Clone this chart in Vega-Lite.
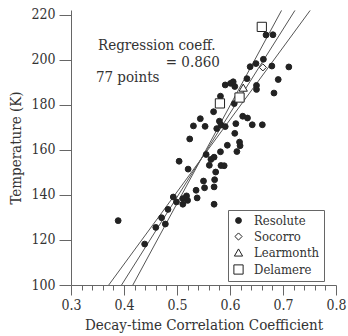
{
  "$schema": "https://vega.github.io/schema/vega-lite/v6.json",
  "width": 265,
  "height": 275,
  "autosize": {"type": "none"},
  "padding": {"left": 71, "top": 10, "right": 12, "bottom": 51},
  "config": {
    "view": {"stroke": null},
    "axis": {
      "labelFont": "DejaVu Serif Condensed",
      "titleFont": "DejaVu Serif Condensed",
      "labelFontSize": 14,
      "titleFontSize": 15,
      "titleFontWeight": "normal",
      "labelColor": "#333",
      "titleColor": "#333",
      "domainColor": "#666",
      "tickColor": "#666",
      "grid": false,
      "labelFlush": false
    },
    "legend": {
      "labelFont": "DejaVu Serif Condensed",
      "labelFontSize": 13,
      "labelColor": "#333"
    }
  },
  "resolve": {"axis": {"x": "independent"}},
  "datasets": {
    "points": [
      {"station": "Resolute", "coef": 0.668, "temp": 211.1},
      {"station": "Resolute", "coef": 0.681, "temp": 211.2},
      {"station": "Resolute", "coef": 0.663, "temp": 200.3},
      {"station": "Resolute", "coef": 0.649, "temp": 198.4},
      {"station": "Resolute", "coef": 0.638, "temp": 197.0},
      {"station": "Resolute", "coef": 0.679, "temp": 197.3},
      {"station": "Resolute", "coef": 0.711, "temp": 196.9},
      {"station": "Resolute", "coef": 0.691, "temp": 191.3},
      {"station": "Resolute", "coef": 0.632, "temp": 191.7},
      {"station": "Resolute", "coef": 0.650, "temp": 188.7},
      {"station": "Resolute", "coef": 0.650, "temp": 186.9},
      {"station": "Resolute", "coef": 0.683, "temp": 185.3},
      {"station": "Resolute", "coef": 0.591, "temp": 188.9},
      {"station": "Resolute", "coef": 0.601, "temp": 189.6},
      {"station": "Resolute", "coef": 0.606, "temp": 190.3},
      {"station": "Resolute", "coef": 0.609, "temp": 188.2},
      {"station": "Resolute", "coef": 0.582, "temp": 183.9},
      {"station": "Resolute", "coef": 0.608, "temp": 180.6},
      {"station": "Resolute", "coef": 0.569, "temp": 177.0},
      {"station": "Resolute", "coef": 0.544, "temp": 173.9},
      {"station": "Resolute", "coef": 0.531, "temp": 170.7},
      {"station": "Resolute", "coef": 0.553, "temp": 170.5},
      {"station": "Resolute", "coef": 0.575, "temp": 169.5},
      {"station": "Resolute", "coef": 0.580, "temp": 172.8},
      {"station": "Resolute", "coef": 0.583, "temp": 171.1},
      {"station": "Resolute", "coef": 0.591, "temp": 170.4},
      {"station": "Resolute", "coef": 0.624, "temp": 175.0},
      {"station": "Resolute", "coef": 0.633, "temp": 174.2},
      {"station": "Resolute", "coef": 0.611, "temp": 171.7},
      {"station": "Resolute", "coef": 0.642, "temp": 171.2},
      {"station": "Resolute", "coef": 0.661, "temp": 171.2},
      {"station": "Resolute", "coef": 0.609, "temp": 167.4},
      {"station": "Resolute", "coef": 0.524, "temp": 164.9},
      {"station": "Resolute", "coef": 0.595, "temp": 162.1},
      {"station": "Resolute", "coef": 0.618, "temp": 163.5},
      {"station": "Resolute", "coef": 0.619, "temp": 161.9},
      {"station": "Resolute", "coef": 0.613, "temp": 159.3},
      {"station": "Resolute", "coef": 0.582, "temp": 159.2},
      {"station": "Resolute", "coef": 0.555, "temp": 158.0},
      {"station": "Resolute", "coef": 0.564, "temp": 155.8},
      {"station": "Resolute", "coef": 0.570, "temp": 156.8},
      {"station": "Resolute", "coef": 0.504, "temp": 155.0},
      {"station": "Resolute", "coef": 0.561, "temp": 153.2},
      {"station": "Resolute", "coef": 0.583, "temp": 153.1},
      {"station": "Resolute", "coef": 0.589, "temp": 153.0},
      {"station": "Resolute", "coef": 0.521, "temp": 151.5},
      {"station": "Resolute", "coef": 0.573, "temp": 150.2},
      {"station": "Resolute", "coef": 0.550, "temp": 146.2},
      {"station": "Resolute", "coef": 0.571, "temp": 146.8},
      {"station": "Resolute", "coef": 0.552, "temp": 143.2},
      {"station": "Resolute", "coef": 0.570, "temp": 143.6},
      {"station": "Resolute", "coef": 0.536, "temp": 142.1},
      {"station": "Resolute", "coef": 0.538, "temp": 138.7},
      {"station": "Resolute", "coef": 0.493, "temp": 139.1},
      {"station": "Resolute", "coef": 0.499, "temp": 136.9},
      {"station": "Resolute", "coef": 0.511, "temp": 138.4},
      {"station": "Resolute", "coef": 0.518, "temp": 139.6},
      {"station": "Resolute", "coef": 0.520, "temp": 137.6},
      {"station": "Resolute", "coef": 0.511, "temp": 135.9},
      {"station": "Resolute", "coef": 0.570, "temp": 135.9},
      {"station": "Resolute", "coef": 0.483, "temp": 133.6},
      {"station": "Resolute", "coef": 0.471, "temp": 129.9},
      {"station": "Resolute", "coef": 0.478, "temp": 127.1},
      {"station": "Resolute", "coef": 0.460, "temp": 125.6},
      {"station": "Resolute", "coef": 0.439, "temp": 118.2},
      {"station": "Resolute", "coef": 0.389, "temp": 128.6},
      {"station": "Socorro", "coef": 0.662, "temp": 196.7},
      {"station": "Learmonth", "coef": 0.625, "temp": 187.7},
      {"station": "Delamere", "coef": 0.660, "temp": 214.7},
      {"station": "Delamere", "coef": 0.618, "temp": 183.3},
      {"station": "Delamere", "coef": 0.581, "temp": 180.7}
    ],
    "lines": [
      {"line": "y on x", "coef": 0.3712, "temp": 100},
      {"line": "y on x", "coef": 0.7512, "temp": 222},
      {"line": "bisector", "coef": 0.3954, "temp": 100},
      {"line": "bisector", "coef": 0.7225, "temp": 222},
      {"line": "x on y", "coef": 0.4167, "temp": 100},
      {"line": "x on y", "coef": 0.6972, "temp": 222}
    ]
  },
  "layer": [
    {
      "data": {"name": "lines"},
      "mark": {"type": "line", "color": "#555", "strokeWidth": 1},
      "encoding": {
        "x": {
          "field": "coef", "type": "quantitative",
          "scale": {"domain": [0.3, 0.8], "nice": false, "zero": false},
          "axis": {
            "orient": "bottom",
            "title": "Decay-time Correlation Coefficient",
            "values": [0.3, 0.4, 0.5, 0.6, 0.7, 0.8],
            "format": ".1f",
            "labelOverlap": false,
            "tickSize": 10,
            "labelPadding": 3,
            "titlePadding": 5
          }
        },
        "y": {
          "field": "temp", "type": "quantitative",
          "scale": {"domain": [100, 222.2], "nice": false, "zero": false},
          "axis": {
            "title": "Temperature (K)",
            "values": [100,105,110,115,120,125,130,135,140,145,150,155,160,165,170,175,180,185,190,195,200,205,210,215,220],
            "labelExpr": "datum.value % 20 === 0 ? datum.label : ''",
            "tickSize": {"condition": {"test": "datum.value % 20 === 0", "value": 12}, "value": 6},
            "labelPadding": 4,
            "titlePadding": 7
          }
        },
        "detail": {"field": "line"}
      }
    },
    {
      "data": {"name": "points"},
      "mark": {"type": "point", "filled": true, "opacity": 1, "stroke": "#222", "strokeWidth": 1},
      "encoding": {
        "x": {
          "field": "coef", "type": "quantitative",
          "axis": {
            "orient": "bottom",
            "title": null,
            "labels": false,
            "domain": false,
            "tickSize": 5,
            "values": [0.32,0.34,0.36,0.38,0.42,0.44,0.46,0.48,0.52,0.54,0.56,0.58,0.62,0.64,0.66,0.68,0.72,0.74,0.76,0.78]
          }
        },
        "y": {"field": "temp", "type": "quantitative"},
        "shape": {
          "field": "station", "type": "nominal",
          "scale": {"domain": ["Resolute", "Socorro", "Learmonth", "Delamere"], "range": ["circle", "diamond", "triangle-up", "square"]},
          "legend": {
            "title": null,
            "orient": "none",
            "legendX": 157,
            "legendY": 200,
            "strokeColor": "#666",
            "fillColor": "white",
            "padding": 4,
            "rowPadding": 2,
            "labelOffset": 9,
            "symbolStrokeColor": "#222",
            "symbolStrokeWidth": 1
          }
        },
        "fill": {
          "field": "station", "type": "nominal",
          "scale": {"domain": ["Resolute", "Socorro", "Learmonth", "Delamere"], "range": ["#222", "#ffffff", "#ffffff", "#ffffff"]},
          "legend": {"title": null}
        },
        "size": {
          "field": "station", "type": "nominal",
          "scale": {"domain": ["Resolute", "Socorro", "Learmonth", "Delamere"], "range": [34, 85, 90, 72]},
          "legend": {"title": null}
        }
      }
    },
    {
      "data": {"values": [{"label": "Regression coeff."}]},
      "mark": {"type": "text", "align": "left", "baseline": "middle", "fontSize": 15, "font": "DejaVu Serif Condensed", "color": "#333"},
      "encoding": {"x": {"datum": 0.351, "axis": null}, "y": {"datum": 206.7}, "text": {"field": "label"}}
    },
    {
      "data": {"values": [{"label": "= 0.860"}]},
      "mark": {"type": "text", "align": "right", "baseline": "middle", "fontSize": 15, "font": "DejaVu Serif Condensed", "color": "#333"},
      "encoding": {"x": {"datum": 0.581, "axis": null}, "y": {"datum": 199.2}, "text": {"field": "label"}}
    },
    {
      "data": {"values": [{"label": "77 points"}]},
      "mark": {"type": "text", "align": "left", "baseline": "middle", "fontSize": 15, "font": "DejaVu Serif Condensed", "color": "#333"},
      "encoding": {"x": {"datum": 0.347, "axis": null}, "y": {"datum": 192.6}, "text": {"field": "label"}}
    }
  ]
}
